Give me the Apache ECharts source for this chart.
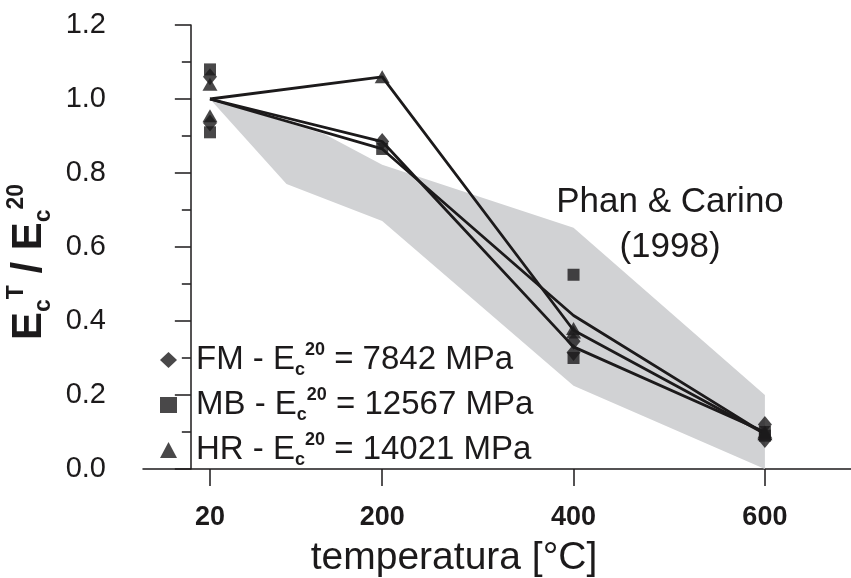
<!DOCTYPE html>
<html>
<head>
<meta charset="utf-8">
<script src="https://cdn.jsdelivr.net/npm/echarts@6/dist/echarts.min.js"></script>
<style>
  html, body { margin: 0; padding: 0; background: #fff; }
  #chart { width: 851px; height: 578px; }
</style>
</head>
<body>
<div id="chart"></div>
<script>
// Temperatures with tick labels on the x axis
const temps = [20, 200, 400, 600];

// Mean relative modulus E_c^T / E_c^20 for each mix (drawn as lines)
const fmMean = [1.0, 0.885, 0.33, 0.10];
const mbMean = [1.0, 0.865, 0.415, 0.095];
const hrMean = [1.0, 1.06, 0.375, 0.095];

// Individual specimen results [temperature, ratio]
const fmPoints = [[20, 1.06], [20, 0.935], [200, 0.885], [400, 0.345], [400, 0.315], [600, 0.12], [600, 0.08]];
const mbPoints = [[20, 1.08], [20, 0.91], [200, 0.865], [400, 0.525], [400, 0.30], [600, 0.09], [600, 0.10]];
const hrPoints = [[20, 1.04], [20, 0.955], [200, 1.06], [400, 0.38], [400, 0.37], [600, 0.095], [600, 0.10]];

// Phan & Carino (1998) scatter band: upper and lower boundaries
const bandUpper = [[20, 1.0], [140, 0.905], [200, 0.822], [400, 0.652], [600, 0.20]];
const bandLower = [[20, 1.0], [100, 0.77], [200, 0.67], [400, 0.225], [600, 0.0]];

// Legend entries
const mixes = ['FM', 'MB', 'HR'];
const mixModulus = { FM: '7842', MB: '12567', HR: '14021' };
const mixSymbols = { FM: 'diamond', MB: 'rect', HR: 'triangle' };

const ink = '#1c1a1b';
const font = '"Liberation Sans", Arial, Helvetica, sans-serif';

const chart = echarts.init(document.getElementById('chart'), null, { renderer: 'canvas' });

function meanLine(name, values) {
  return {
    name: name + ' mean',
    type: 'line',
    data: temps.map((t, i) => [t, values[i]]),
    symbol: 'none',
    lineStyle: { color: ink, width: 2.8 },
    z: 3,
    silent: true
  };
}

function pointSeries(name, points, size) {
  return {
    name: name,
    type: 'scatter',
    data: points,
    symbol: mixSymbols[name],
    symbolSize: size,
    itemStyle: { color: ink },
    z: 4
  };
}

const option = {
  animation: false,
  backgroundColor: '#fff',
  grid: { left: 143, right: 0, top: 25, bottom: 109, containLabel: false, outerBoundsMode: 'none' },
  xAxis: {
    type: 'value',
    min: -50,
    max: 690,
    axisLine: { show: true, lineStyle: { color: ink, width: 1.5 } },
    axisTick: { show: true, inside: false, length: 17, customValues: temps, lineStyle: { color: ink, width: 1.5 } },
    axisLabel: {
      customValues: temps,
      margin: 35,
      color: ink,
      fontFamily: font,
      fontWeight: 'bold',
      fontSize: 27
    },
    splitLine: { show: false },
    name: 'temperatura [°C]',
    nameLocation: 'middle',
    nameGap: 70,
    nameTextStyle: { color: ink, fontFamily: font, fontSize: 39, padding: [0, 86, 0, 0] }
  },
  yAxis: {
    type: 'value',
    min: 0,
    max: 1.2,
    interval: 0.2,
    axisLine: { show: true, lineStyle: { color: ink, width: 1.5 } },
    axisTick: { show: true, inside: false, length: 16, lineStyle: { color: ink, width: 1.5 } },
    minorTick: { show: true, splitNumber: 2, length: 9, lineStyle: { color: ink, width: 1.5 } },
    axisLabel: {
      margin: 37,
      color: ink,
      fontFamily: font,
      fontSize: 29,
      formatter: v => v.toFixed(1)
    },
    splitLine: { show: false },
    name: '{m|E}{sub|c}{sup|T}{m| / E}{sub|c}{sup|20}',
    nameLocation: 'middle',
    nameRotate: 90,
    nameGap: 80,
    nameTextStyle: {
      color: ink,
      fontFamily: font,
      padding: [0, 30, 0, 0],
      rich: {
        m: { fontSize: 42, fontFamily: font, color: ink, fontWeight: 'bold', lineHeight: 50, verticalAlign: 'middle' },
        sub: { fontSize: 23, fontFamily: font, color: ink, fontWeight: 'bold', lineHeight: 18, verticalAlign: 'bottom' },
        sup: { fontSize: 23, fontFamily: font, color: ink, fontWeight: 'bold', lineHeight: 18, verticalAlign: 'top' }
      }
    }
  },
  legend: {
    orient: 'vertical',
    left: 155,
    top: 336,
    itemGap: 7,
    itemWidth: 17,
    itemHeight: 16,
    data: mixes.map(n => ({ name: n, icon: mixSymbols[n] })),
    itemStyle: { color: ink },
    formatter: n => '{m|' + n + ' - E}{sub|c}{sup|20}{m| = ' + mixModulus[n] + ' MPa}',
    textStyle: {
      color: ink,
      fontFamily: font,
      padding: [0, 0, 0, 14],
      rich: {
        m: { fontSize: 33, fontFamily: font, color: ink, lineHeight: 38, verticalAlign: 'middle' },
        sub: { fontSize: 18, fontFamily: font, color: ink, fontWeight: 'bold', lineHeight: 14, verticalAlign: 'bottom' },
        sup: { fontSize: 18, fontFamily: font, color: ink, fontWeight: 'bold', lineHeight: 14, verticalAlign: 'top' }
      }
    },
    selectedMode: false
  },
  graphic: [
    {
      type: 'text',
      x: 670,
      y: 180,
      z: 20,
      style: {
        text: 'Phan & Carino\n(1998)',
        fill: ink,
        font: '35px ' + font,
        lineHeight: 45,
        align: 'center',
        verticalAlign: 'top'
      },
      silent: true
    }
  ],
  series: [
    {
      name: 'Phan & Carino (1998)',
      type: 'custom',
      data: [[20, 1.0]],
      silent: true,
      z: 1,
      renderItem: (params, api) => {
        const poly = bandUpper.concat(bandLower.slice().reverse()).map(p => api.coord(p));
        return { type: 'polygon', shape: { points: poly }, style: { fill: '#d1d2d4' } };
      }
    },
    meanLine('FM', fmMean),
    meanLine('MB', mbMean),
    meanLine('HR', hrMean),
    pointSeries('FM', fmPoints, [14, 17]),
    pointSeries('MB', mbPoints, [12, 12]),
    pointSeries('HR', hrPoints, [15, 13])
  ]
};

chart.setOption(option);
</script>
</body>
</html>
